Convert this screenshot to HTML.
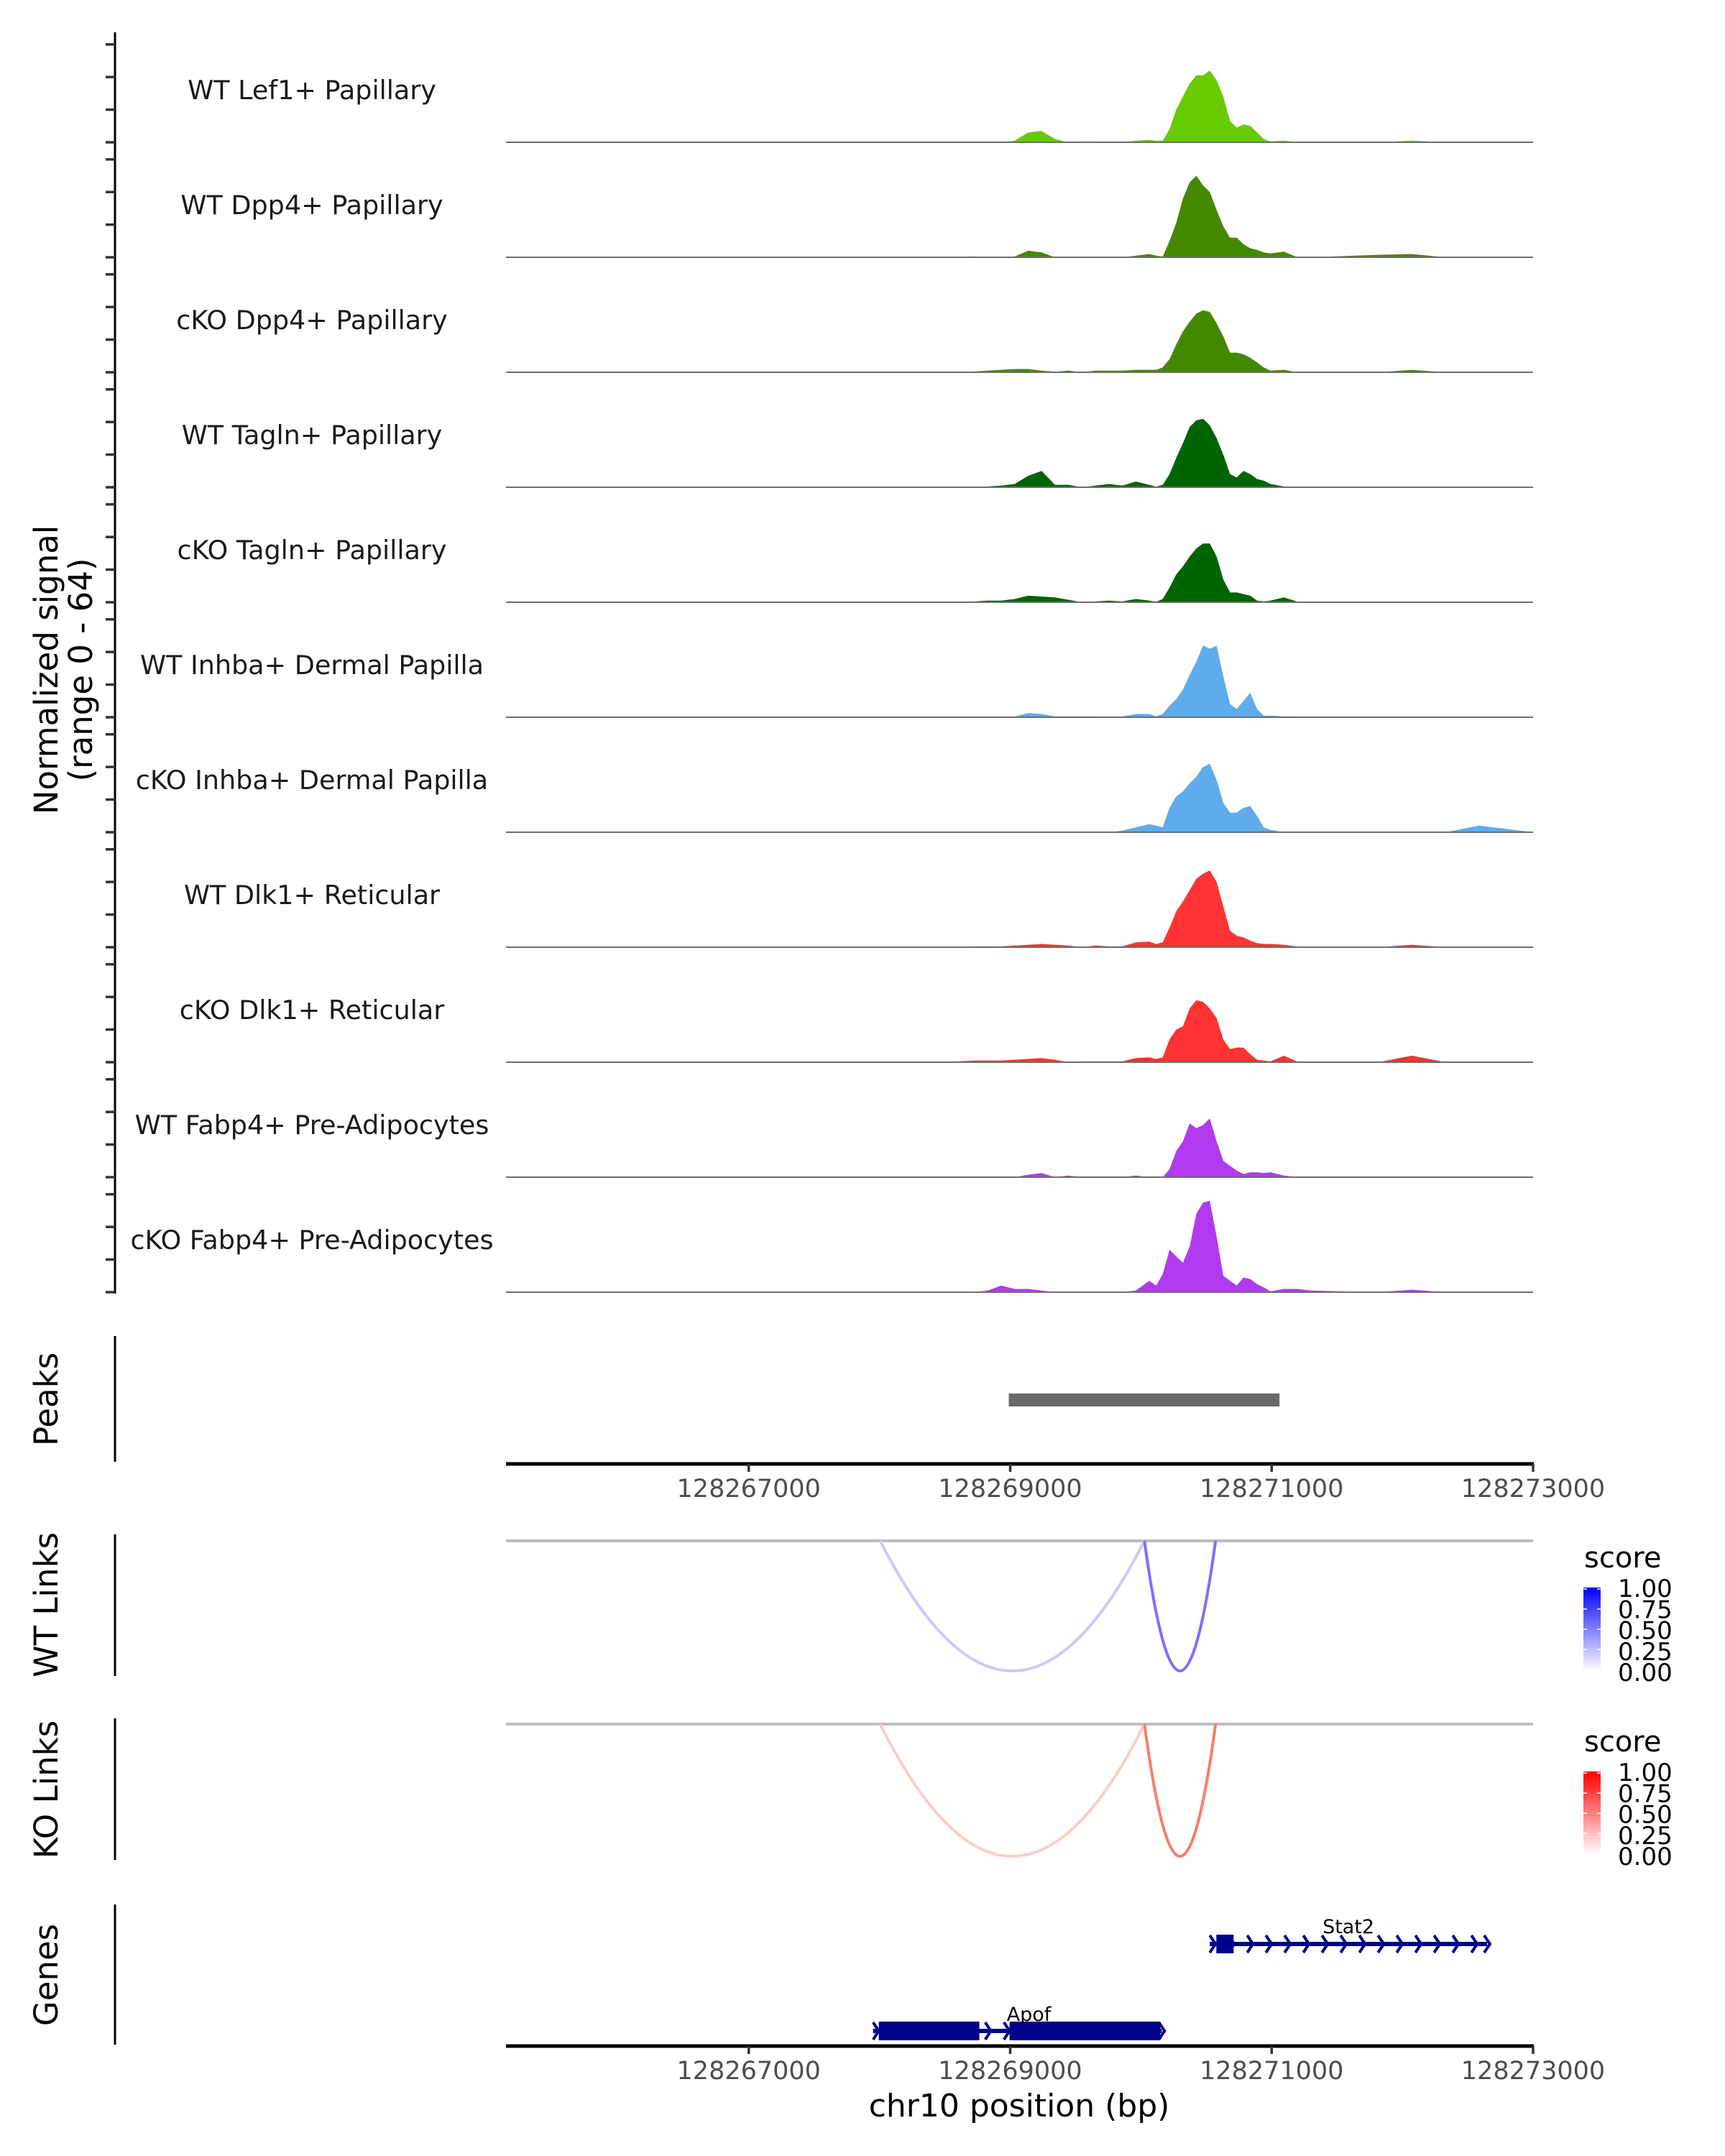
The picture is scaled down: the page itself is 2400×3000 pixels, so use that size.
<!DOCTYPE html>
<html><head><meta charset="utf-8">
<style>
html,body{margin:0;padding:0;background:#fff;}
svg{display:block;font-family:"DejaVu Sans","Liberation Sans",sans-serif;}
</style></head>
<body>
<svg id="chart" xmlns="http://www.w3.org/2000/svg" width="2400" height="3000" viewBox="0 0 2400 3000">
<rect width="2400" height="3000" fill="#fff"/>
<g id="tracks"></g>
<g id="yaxis"></g>
<text transform="translate(80,932) rotate(-90)" text-anchor="middle" font-size="45" fill="#000">Normalized signal</text>
<text transform="translate(128,932) rotate(-90)" text-anchor="middle" font-size="45" fill="#000">(range 0 - 64)</text>

<line x1="160" y1="1859" x2="160" y2="2034" stroke="#000" stroke-width="3"/>
<text transform="translate(80,1947) rotate(-90)" text-anchor="middle" font-size="45" fill="#000">Peaks</text>
<g id="peaks"></g>
<g id="axis1"></g>

<line x1="160" y1="2135" x2="160" y2="2332" stroke="#000" stroke-width="3"/>
<text transform="translate(80,2233) rotate(-90)" text-anchor="middle" font-size="45" fill="#000">WT Links</text>
<line x1="160" y1="2391" x2="160" y2="2588" stroke="#000" stroke-width="3"/>
<text transform="translate(80,2490) rotate(-90)" text-anchor="middle" font-size="45" fill="#000">KO Links</text>
<g id="links"></g>

<defs>
<linearGradient id="gBlue" x1="0" y1="1" x2="0" y2="0"><stop offset="0" stop-color="#ffffff"/><stop offset="1" stop-color="#0000ff"/></linearGradient>
<linearGradient id="gRed" x1="0" y1="1" x2="0" y2="0"><stop offset="0" stop-color="#ffffff"/><stop offset="1" stop-color="#ff0000"/></linearGradient>
</defs>
<g id="legends"></g>

<line x1="160" y1="2650" x2="160" y2="2845" stroke="#000" stroke-width="3"/>
<text transform="translate(80,2748) rotate(-90)" text-anchor="middle" font-size="45" fill="#000">Genes</text>
<g id="genes"></g>
<g id="axis2"></g>
<text x="1418" y="2945" text-anchor="middle" font-size="44" fill="#000">chr10 position (bp)</text>
</svg>
<script>
// ---------- data ----------
const positions = [128265143,128265636,128266151,128266666,128267181,128267696,128268210,128268468,
 128268725,128268828,128268931,128269034,128269137,128269240,128269343,128269446,128269549,128269652,128269755,128269858,128269961,
 128270064,128270116,128270167,128270219,128270270,128270321,128270373,128270424,128270476,128270527,128270579,128270630,128270682,128270733,128270785,128270836,128270888,128270939,128270991,
 128271094,128271197,128271300,128271815,128272072,128272330,128272587,128273000];
const trackNames = ["WT Lef1+ Papillary","WT Dpp4+ Papillary","cKO Dpp4+ Papillary","WT Tagln+ Papillary","cKO Tagln+ Papillary",
 "WT Inhba+ Dermal Papilla","cKO Inhba+ Dermal Papilla","WT Dlk1+ Reticular","cKO Dlk1+ Reticular","WT Fabp4+ Pre-Adipocytes","cKO Fabp4+ Pre-Adipocytes"];
const trackColors = ["#66cc00","#448800","#448800","#006400","#006400","#5eacec","#5eacec","#ff3333","#ff3333","#b13aee","#b13aee"];
const sigLef1WT  = [0,0,0,0,0,0,0,0, 0,0,0,1,6,7,2,0,0.5,0.5,0,0,1, 1.5,1,1,8,20,28,36,41,41,44,38,28,13,9,11,10,6,2,0.5, 1,0,0,0,1,0,0,0];
const sigDpp4WT  = [0,0,0,0,0,0,0,0, 0.5,0,0,0.5,4,3,0,0.3,0.3,0,0,0,1, 2,1,0.5,10,21,36,46,50,44,40,29,19,12,12,8,5.5,4.6,3,2.4, 3.5,0,0,1.5,2,0,0,0];
const sigDpp4KO  = [0,0,0,0,0,0,0,0, 0.5,1,1.5,2,2,1,0.3,1,0,1,1,1,1.5, 1.5,1.5,3,8,17,25,31,36,38,37,30,22,12,12,11,9,6,3,1, 1.5,0,0,0,1.5,0,0,0];
const sigTaglnWT = [0,0,0,0,0,0,0,0, 0,0.5,1,2,7,10,1.5,1.5,0,1,2,1,3.5, 1.5,0.3,1.5,8,18,27,37,41,42,38,30,20,8,6,10,8,5,4,2, 0.5,0,0,0,0,0,0,0];
const sigTaglnKO = [0,0,0,0,0,0,0,0, 0.5,1,1,2,4,3.5,3,1.5,0,0.5,1,0.5,2, 1,0.2,2,9,17,22,28,33,36,36,28,14,6,6,5,4,1,0.5,1, 3,0.3,0,0,0,0,0,0];
const sigInhbaWT = [0,0,0,0,0,0,0,0, 0.3,0,0,0.5,2.5,2,0.5,0.5,0.5,0.5,0,0.5,2, 2,0.5,2,7,11,17,26,34,44,42,44,25,8,5,10,15,5,1,1, 0.5,0.5,0,0,0,0,0,0];
const sigInhbaKO = [0,0,0,0,0,0,0,0, 0,0,0,0,0,0,0,0,0,0,0,1,3, 5,4,3,15,22,25,30,34,40,42,32,18,12,12,15,16,10,3,1.5, 0,0,0,0,0,0,4,0];
const sigDlk1WT  = [0,0,0,0,0,0,0,0, 0.5,0.5,0.5,1,1.5,2,1.5,1,0,1,0.5,0.5,3, 3.5,2,3,12,22,28,35,42,45,47,40,25,10,7,6,4,2.5,2,2, 1.5,0.3,0,0,1.5,0,0,0];
const sigDlk1KO  = [0,0,0,0,0,0,0,0, 1,1,1,1.5,2,2.5,1.5,0,0.5,0.5,0.5,0.5,2.5, 3,2,3,14,20,22,33,38,37,33,27,14,8,9,9,5,1.5,1,0.5, 4,0.3,0,0,4,0,0,0];
const sigFabp4WT = [0,0,0,0,0,0,0,0, 0,0,0,0,1.5,2.5,0,1,0,0,0,0,1, 0,0,0,5,16,22,33,30,32,36,22,10,7,4,2,3,3,2.5,3, 1,0,0,0,0,0,0,0];
const sigFabp4KO = [0,0,0,0,0,0,0,0, 0,1,4,2,2,1,0,0,0,0,0,0,1, 7,4,11,26,22,18,28,48,55,56,34,10,7,4,9,8,5,3,0.5, 2,2,1,0,1.5,0,0,0];
const signals = [sigLef1WT,sigDpp4WT,sigDpp4KO,sigTaglnWT,sigTaglnKO,sigInhbaWT,sigInhbaKO,sigDlk1WT,sigDlk1KO,sigFabp4WT,sigFabp4KO];
const yTickVals = [0,20,40,60];
const xTickVals = [128267000,128269000,128271000,128273000];
const xTickLabels = ["128267000","128269000","128271000","128273000"];
const peakStarts = [128268989];
const peakEnds = [128271060];
const linkStarts = [128268005,128270027];
const linkEnds = [128270027,128270571];
const wtLinkScores = [0.28,0.72];
const koLinkScores = [0.28,0.72];
const legendTicks = [1.00,0.75,0.50,0.25,0.00];
const legendLabels = ["1.00","0.75","0.50","0.25","0.00"];
const geneNames = ["Stat2","Apof"];
const geneStarts = [128270527,128267951];
const geneEnds = [128272648,128270159];
const exonStarts = [[128270577],[128267995,128268995]];
const exonEnds = [[128270709],[128268764,128270148]];

// ---------- scales ----------
const NS = "http://www.w3.org/2000/svg";
const X0 = 704, X1 = 2133, BP0 = 128265143, BP1 = 128273000;
function xs(bp){ return X0 + (bp-BP0)/(BP1-BP0)*(X1-X0); }
const UNIT = 2.27, BASE0 = 198, STEP = 160;
function ys(i,v){ return BASE0 + i*STEP - v*UNIT; }
function mk(tag, attrs, parent){ const e=document.createElementNS(NS,tag); for(const k in attrs) e.setAttribute(k,attrs[k]); parent.appendChild(e); return e; }

// ---------- coverage tracks ----------
const gT = document.getElementById('tracks');
const gY = document.getElementById('yaxis');
const ax = mk('line',{x1:160,y1:45,x2:160,y2:1800,stroke:'#000','stroke-width':3},gY);


signals.forEach((vals,i)=>{
  const base = ys(i,0);
  let d = 'M'+xs(positions[0]).toFixed(1)+','+base;
  vals.forEach((v,j)=>{ d += ' L'+xs(positions[j]).toFixed(1)+','+ys(i,v).toFixed(1); });
  d += ' L'+xs(positions[positions.length-1]).toFixed(1)+','+base+' Z';
  const p = mk('path',{d:d,fill:trackColors[i]},gT);
  
  
  const bl = mk('line',{x1:X0,x2:X1,y1:base,y2:base,stroke:'#6e6e6e','stroke-width':2},gT);
  
  
  const t = mk('text',{x:434,y:base-60,'text-anchor':'middle','font-size':36.5,fill:'#1a1a1a'},gT);
  t.textContent = trackNames[i];
  
  
  yTickVals.forEach(tv=>{
    const y = ys(i,tv);
    const tk = mk('line',{x1:147,x2:160,y1:y,y2:y,stroke:'#333','stroke-width':3.5},gY);
    
    
  });
});

// ---------- peaks ----------
const gP = document.getElementById('peaks');
peakStarts.forEach((s,i)=>{
  const r = mk('rect',{x:xs(s),y:1939,width:xs(peakEnds[i])-xs(s),height:18,fill:'#696969'},gP);
  
  
});

// ---------- x axes ----------
function drawAxis(gid, y, labY){
  const g = document.getElementById(gid);
  const l = mk('line',{x1:X0,x2:X1+1,y1:y,y2:y,stroke:'#000','stroke-width':5},g);
  
  
  xTickVals.forEach((v,i)=>{
    const x = xs(v);
    const tk = mk('line',{x1:x,x2:x,y1:y,y2:y+11,stroke:'#333','stroke-width':3.5},g);
    
    
    const t = mk('text',{x:x,y:labY,'text-anchor':'middle','font-size':35,fill:'#4d4d4d'},g);
    t.textContent = xTickLabels[i];
    
    
  });
}
drawAxis('axis1',2037,2083);
drawAxis('axis2',2847,2893);

// ---------- links ----------
const gL = document.getElementById('links');
function mix(c1,c2,t){ return 'rgb('+c1.map((c,k)=>Math.round(c+(c2[k]-c)*t)).join(',')+')'; }
function drawLinks(scores, topY, depth, hi, name){
  const gl = mk('line',{x1:X0,x2:X1,y1:topY,y2:topY,stroke:'#bebebe','stroke-width':4},gL);
  
  
  scores.forEach((s,i)=>{
    const a = xs(linkStarts[i]), b = xs(linkEnds[i]);
    const p = mk('path',{d:'M'+a+','+topY+' Q'+((a+b)/2)+','+(topY+2*depth)+' '+b+','+topY,fill:'none',stroke:mix([255,255,255],hi,s),'stroke-width':4},gL);
    
    
  });
}
drawLinks(wtLinkScores,2144,181,[90,50,255],'wt-link');
drawLinks(koLinkScores,2399,184,[245,75,45],'ko-link');

// ---------- legends ----------
const gLg = document.getElementById('legends');
function drawLegend(top, grad, name){
  const t = mk('text',{x:2204,y:top,'font-size':40,fill:'#000'},gLg);
  t.textContent = 'score';
  
  
  const by0 = top+28, by1 = top+144;
  const r = mk('rect',{x:2203,y:by0,width:24,height:by1-by0,fill:'url(#'+grad+')'},gLg);
  
  
  legendTicks.forEach((v,i)=>{
    const y = by1 - v*(by1-by0-4) - 2;
    const tk = mk('line',{x1:2203,x2:2208,y1:y,y2:y,stroke:'#fff','stroke-width':1.5},gLg);
    
    
    const tk2 = mk('line',{x1:2222,x2:2227,y1:y,y2:y,stroke:'#fff','stroke-width':1.5},gLg);
    
    
    const lb = mk('text',{x:2251,y:top+41+i*29.3,'font-size':34,fill:'#000'},gLg);
    lb.textContent = legendLabels[i];
    
    
  });
}
drawLegend(2181,'gBlue','wt-legend');
drawLegend(2437,'gRed','ko-legend');

// ---------- genes ----------
const gG = document.getElementById('genes');
const geneY = [2705,2826];
const labelY = [2690,2812];
const NAVY = '#00008b';
function chevron(x,y){
  const c = mk('polyline',{points:(x-4)+','+(y-12)+' '+(x+4)+','+y+' '+(x-4)+','+(y+12),fill:'none',stroke:NAVY,'stroke-width':4},gG);
  
  
}
geneNames.forEach((nm,i)=>{
  const a = xs(geneStarts[i]), b = xs(geneEnds[i]), y = geneY[i];
  const ln = mk('line',{x1:a,x2:b,y1:y,y2:y,stroke:NAVY,'stroke-width':6},gG);
  
  
  for(let x=a+4; x<=b; x+=26) chevron(x,y);
  chevron(b,y);
  exonStarts[i].forEach((s,k)=>{
    const r = mk('rect',{x:xs(s),y:y-13,width:xs(exonEnds[i][k])-xs(s),height:26,fill:NAVY},gG);
    
    
  });
  const t = mk('text',{x:(a+b)/2+(i===0?0:16),y:labelY[i],'text-anchor':'middle','font-size':27,fill:'#000'},gG);
  t.textContent = nm;
  
  
});
</script>
</body></html>
